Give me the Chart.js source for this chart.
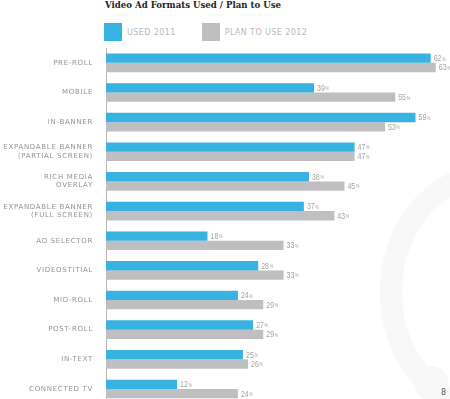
<!DOCTYPE html>
<html>
<head>
<meta charset="utf-8">
<script src="https://cdn.jsdelivr.net/npm/chart.js@4/dist/chart.umd.min.js"></script>
<style>
  html, body { margin: 0; padding: 0; background: #fff; overflow: hidden; }
  #wrap { position: relative; width: 450px; height: 399px; overflow: hidden; }
  #title {
    position: absolute; left: 105px; top: 0px;
    font: bold 8.6px "DejaVu Serif", serif; color: #222; white-space: nowrap;
  }
  #legend { position: absolute; left: 104px; top: 23px; display: flex; }
  .item { display: flex; align-items: center; margin-right: 26px; }
  .box { width: 18px; height: 18px; margin-right: 5px; }
  .lbl { font: 8px "DejaVu Sans", sans-serif; color: #b8b8b8; letter-spacing: 0.4px; }
  .ring { position: absolute; border-radius: 50%; }
  #page { position: absolute; right: 4px; bottom: 2px; font: 8px "DejaVu Sans", sans-serif; color: #555; }
  canvas { position: absolute; left: 0; top: 0; }
</style>
</head>
<body>
<div id="wrap">
  <div class="ring" style="left:380px;top:165px;width:170px;height:210px;border:22px solid #f8f8f8;"></div>
  <div class="ring" style="left:414px;top:366px;width:34px;height:34px;background:#f8f8f8;"></div>
  <div id="title">Video Ad Formats Used / Plan to Use</div>
  <div id="legend"></div>
  <canvas id="chart" width="450" height="421"></canvas>
  <div id="page">8</div>
</div>
<script>
const categories = [
  "PRE-ROLL",
  "MOBILE",
  "IN-BANNER",
  ["EXPANDABLE BANNER", "(PARTIAL SCREEN)"],
  ["RICH MEDIA", "OVERLAY"],
  ["EXPANDABLE BANNER", "(FULL SCREEN)"],
  "AD SELECTOR",
  "VIDEOSTITIAL",
  "MID-ROLL",
  "POST-ROLL",
  "IN-TEXT",
  "CONNECTED TV"
];
const used2011 = [62, 39, 59, 47, 38, 37, 18, 28, 24, 27, 25, 12];
const plan2012 = [63, 55, 53, 47, 45, 43, 33, 33, 29, 29, 26, 24];
const seriesNames = ["USED 2011", "PLAN TO USE 2012"];
const seriesColors = ["#38b2e0", "#bfbfc1"];

// wider letter spacing for the category labels
const spacing = {
  id: "spacing",
  beforeDraw(chart) { chart.ctx.letterSpacing = "0.7px"; }
};

// value labels like "62%", narrow digits and a small percent sign
const valueLabels = {
  id: "valueLabels",
  afterDatasetsDraw(chart) {
    const ctx = chart.ctx;
    chart.data.datasets.forEach((ds, i) => {
      chart.getDatasetMeta(i).data.forEach((bar, j) => {
        ctx.save();
        ctx.letterSpacing = "0px";
        ctx.fillStyle = "#a3a3a3";
        ctx.textBaseline = "middle";
        ctx.translate(bar.x + 3, bar.y);
        ctx.scale(0.78, 1);
        ctx.font = '9px "Liberation Sans", sans-serif';
        const txt = String(ds.data[j]);
        ctx.fillText(txt, 0, 0.5);
        const w = ctx.measureText(txt).width;
        ctx.font = '5px "Liberation Sans", sans-serif';
        ctx.fillText("%", w + 0.8, 1);
        ctx.restore();
      });
    });
  }
};

const ctx = document.getElementById("chart").getContext("2d");
const chart = new Chart(ctx, {
  type: "bar",
  data: {
    labels: categories,
    datasets: [
      { label: seriesNames[0], data: used2011, backgroundColor: seriesColors[0], base: -2 },
      { label: seriesNames[1], data: plan2012, backgroundColor: seriesColors[1], base: -2 }
    ]
  },
  options: {
    indexAxis: "y",
    responsive: false,
    animation: false,
    categoryPercentage: 0.63,
    barPercentage: 1.0,
    layout: { padding: { top: 48, right: 0, bottom: 0, left: 0 } },
    plugins: {
      legend: { display: false },
      tooltip: { enabled: false }
    },
    scales: {
      x: {
        display: false,
        min: -2,
        max: 65.8
      },
      y: {
        grid: { display: false, drawTicks: false },
        border: { display: true, color: "#b5b5b5", dash: [2, 2], width: 1 },
        ticks: {
          color: "#939393",
          padding: 13,
          font: { family: "'DejaVu Sans', sans-serif", size: 7 },
          autoSkip: false
        },
        afterFit(scale) { scale.width = 106; }
      }
    }
  },
  plugins: [spacing, valueLabels]
});

// legend from the datasets
const legend = document.getElementById("legend");
chart.data.datasets.forEach((ds) => {
  const item = document.createElement("div");
  item.className = "item";
  item.innerHTML = `<div class="box" style="background:${ds.backgroundColor}"></div><span class="lbl">${ds.label}</span>`;
  legend.appendChild(item);
});
</script>
</body>
</html>
